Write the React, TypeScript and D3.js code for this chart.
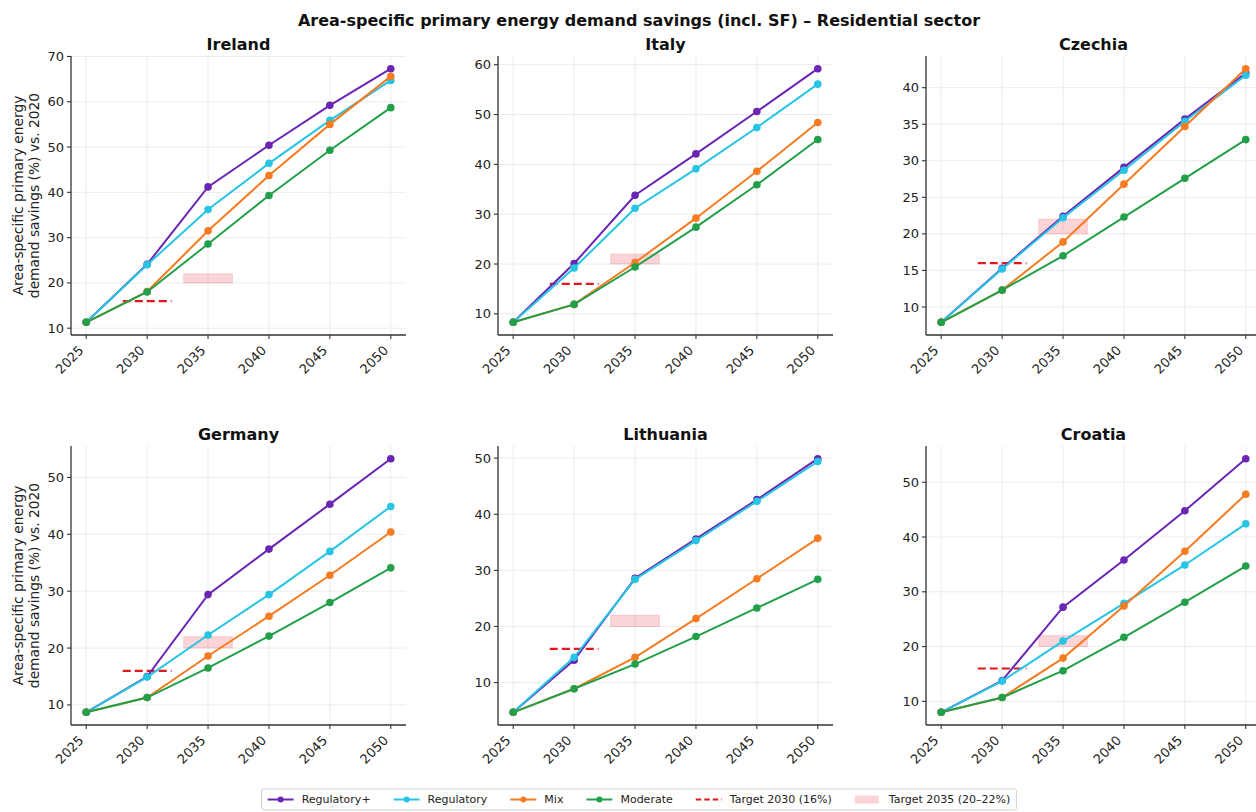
import React, { useEffect, useRef } from 'react';
import * as d3 from 'd3';

// Years on the x axis
const years = [2025, 2030, 2035, 2040, 2045, 2050];
const countries = ['Ireland', 'Italy', 'Czechia', 'Germany', 'Lithuania', 'Croatia'];
const scenarios = ['Regulatory+', 'Regulatory', 'Mix', 'Moderate'];
const scenarioColors = ['#6a25b4', '#26c5e4', '#f77b20', '#22a049'];

// Savings (%) per scenario, in the order of `scenarios`
const irelandValues = [
  [11.3, 24.1, 41.2, 50.4, 59.2, 67.3],
  [11.3, 24.0, 36.2, 46.4, 55.9, 64.7],
  [11.3, 18.1, 31.5, 43.7, 55.0, 65.6],
  [11.3, 18.0, 28.6, 39.3, 49.3, 58.7],
];
const italyValues = [
  [8.3, 20.1, 33.8, 42.1, 50.6, 59.2],
  [8.3, 19.2, 31.2, 39.1, 47.4, 56.1],
  [8.3, 11.9, 20.3, 29.2, 38.6, 48.4],
  [8.3, 11.9, 19.4, 27.4, 35.9, 45.0],
];
const czechiaValues = [
  [7.9, 15.3, 22.4, 29.1, 35.7, 42.0],
  [7.9, 15.2, 22.2, 28.7, 35.4, 41.7],
  [7.9, 12.3, 18.9, 26.8, 34.7, 42.6],
  [7.9, 12.3, 17.0, 22.3, 27.6, 32.9],
];
const germanyValues = [
  [8.7, 15.0, 29.4, 37.4, 45.3, 53.3],
  [8.7, 14.9, 22.3, 29.4, 37.0, 44.9],
  [8.7, 11.3, 18.6, 25.6, 32.8, 40.4],
  [8.7, 11.3, 16.5, 22.1, 28.0, 34.1],
];
const lithuaniaValues = [
  [4.7, 14.0, 28.6, 35.6, 42.6, 49.9],
  [4.7, 14.5, 28.4, 35.3, 42.3, 49.4],
  [4.7, 8.9, 14.5, 21.4, 28.5, 35.7],
  [4.7, 8.9, 13.3, 18.2, 23.3, 28.4],
];
const croatiaValues = [
  [8.0, 13.8, 27.2, 35.8, 44.8, 54.3],
  [8.0, 13.7, 21.0, 27.9, 34.9, 42.4],
  [8.0, 10.7, 17.9, 27.4, 37.4, 47.8],
  [8.0, 10.7, 15.6, 21.7, 28.1, 34.7],
];
const countryValues = [irelandValues, italyValues, czechiaValues, germanyValues, lithuaniaValues, croatiaValues];

// Policy targets
const target2030Value = 16;
const target2030Years = [2028, 2032];
const target2035Range = [20, 22];
const target2035Years = [2033, 2037];

const legendLabels = ['Regulatory+', 'Regulatory', 'Mix', 'Moderate', 'Target 2030 (16%)', 'Target 2035 (20–22%)'];

const App: React.FC = () => {
  const svgRef = useRef<SVGSVGElement>(null);

  useEffect(() => {
    if (!svgRef.current) return;
    const svg = d3.select(svgRef.current);
    svg.selectAll('*').remove();

    const font = 'DejaVu Sans, sans-serif';
    const axLefts = [71, 498, 926];
    const axTops = [56, 446];
    const axW = 335;
    const axH = 279;
    const ink = '#333';

    // Figure title
    svg.append('text').attr('x', 639).attr('y', 26).attr('text-anchor', 'middle')
      .style('font-family', font).style('font-size', '16px').style('font-weight', 'bold').style('fill', '#111')
      .text('Area-specific primary energy demand savings (incl. SF) – Residential sector');

    countries.forEach((country, i) => {
      const values = countryValues[i];
      const col = i % 3;
      const row = Math.floor(i / 3);
      const g = svg.append('g').attr('transform', `translate(${axLefts[col]},${axTops[row]})`);

      const x = d3.scaleLinear().domain([2025 - 1.25, 2050 + 1.25]).range([0, axW]);
      const all = values.flat().concat([target2030Value, ...target2035Range]);
      const lo = d3.min(all) || 0;
      const hi = d3.max(all) || 0;
      const pad = (hi - lo) * 0.05;
      const y = d3.scaleLinear().domain([lo - pad, hi + pad]).range([axH, 0]);
      const yTicks = y.ticks(6).filter(t => t >= y.domain()[0] && t <= y.domain()[1]);

      // Grid
      g.append('g').selectAll('line').data(yTicks).enter().append('line')
        .attr('x1', 0).attr('x2', axW).attr('y1', d => y(d)).attr('y2', d => y(d))
        .style('stroke', '#e9e9e9').style('stroke-width', 0.9);
      g.append('g').selectAll('line').data(years).enter().append('line')
        .attr('y1', 0).attr('y2', axH).attr('x1', d => x(d)).attr('x2', d => x(d))
        .style('stroke', '#e9e9e9').style('stroke-width', 0.9);

      // Target 2035 band
      g.append('rect')
        .attr('x', x(target2035Years[0])).attr('width', x(target2035Years[1]) - x(target2035Years[0]))
        .attr('y', y(target2035Range[1])).attr('height', y(target2035Range[0]) - y(target2035Range[1]))
        .style('fill', 'rgba(235, 60, 75, 0.22)').style('stroke', 'rgba(235, 60, 75, 0.18)');

      // Target 2030 dashed line
      g.append('line')
        .attr('x1', x(target2030Years[0])).attr('x2', x(target2030Years[1]))
        .attr('y1', y(target2030Value)).attr('y2', y(target2030Value))
        .style('stroke', '#e3161b').style('stroke-width', 2.2).style('stroke-dasharray', '8,4');

      // Scenario lines + markers
      const line = d3.line<number>().x((_, k) => x(years[k])).y(d => y(d));
      values.forEach((series, s) => {
        g.append('path').datum(series).attr('d', line)
          .style('fill', 'none').style('stroke', scenarioColors[s]).style('stroke-width', 2);
        g.append('g').selectAll('circle').data(series).enter().append('circle')
          .attr('cx', (_, k) => x(years[k])).attr('cy', d => y(d)).attr('r', 3.8)
          .style('fill', scenarioColors[s]);
      });

      // Spines
      g.append('line').attr('x1', 0).attr('x2', 0).attr('y1', 0).attr('y2', axH)
        .style('stroke', ink).style('stroke-width', 1.3);
      g.append('line').attr('x1', 0).attr('x2', axW).attr('y1', axH).attr('y2', axH)
        .style('stroke', ink).style('stroke-width', 1.3);

      // Y ticks
      const yt = g.append('g').selectAll('g').data(yTicks).enter().append('g')
        .attr('transform', d => `translate(0,${y(d)})`);
      yt.append('line').attr('x1', -4).attr('x2', 0).style('stroke', ink).style('stroke-width', 1.1);
      yt.append('text').attr('x', -7).attr('dy', '0.35em').attr('text-anchor', 'end')
        .style('font-family', font).style('font-size', '13px').style('fill', '#222')
        .text(d => d3.format('d')(d));

      // X ticks
      const xt = g.append('g').selectAll('g').data(years).enter().append('g')
        .attr('transform', d => `translate(${x(d)},${axH})`);
      xt.append('line').attr('y1', 0).attr('y2', 4).style('stroke', ink).style('stroke-width', 1.1);
      xt.append('text')
        .attr('transform', 'translate(-5,13) rotate(-45)')
        .attr('dy', '0.35em').attr('text-anchor', 'end')
        .style('font-family', font).style('font-size', '13px').style('fill', '#222')
        .text(d => String(d));

      // Panel title
      g.append('text').attr('x', axW / 2).attr('y', -6).attr('text-anchor', 'middle')
        .style('font-family', font).style('font-size', '16px').style('font-weight', 'bold').style('fill', '#111')
        .text(country);

      // Y label on the first column
      if (col === 0) {
        const lbl = g.append('text').attr('transform', `translate(-48,${axH / 2}) rotate(-90)`)
          .attr('text-anchor', 'middle')
          .style('font-family', font).style('font-size', '13.8px').style('fill', '#222');
        lbl.append('tspan').attr('x', 0).attr('dy', '0em').text('Area-specific primary energy');
        lbl.append('tspan').attr('x', 0).attr('dy', '1.15em').text('demand savings (%) vs. 2020');
      }
    });

    // Legend
    const lg = svg.append('g');
    const box = lg.append('rect').attr('y', 789).attr('height', 21).attr('rx', 2)
      .style('fill', 'white').style('stroke', '#cfcfcf').style('stroke-width', 1);
    const cy = 799.5;
    let cx = 0;
    const items = lg.append('g');
    legendLabels.forEach((label, k) => {
      const it = items.append('g').attr('transform', `translate(${cx},0)`);
      if (k < 4) {
        it.append('line').attr('x1', 0).attr('x2', 26).attr('y1', cy).attr('y2', cy)
          .style('stroke', scenarioColors[k]).style('stroke-width', 2);
        it.append('circle').attr('cx', 13).attr('cy', cy).attr('r', 3).style('fill', scenarioColors[k]);
      } else if (k === 4) {
        it.append('line').attr('x1', 0).attr('x2', 26).attr('y1', cy).attr('y2', cy)
          .style('stroke', '#e3161b').style('stroke-width', 2).style('stroke-dasharray', '5.5,3');
      } else {
        it.append('rect').attr('x', 0).attr('width', 24).attr('y', cy - 4).attr('height', 8)
          .style('fill', 'rgba(235, 60, 75, 0.22)');
      }
      const t = it.append('text').attr('x', 34).attr('y', cy).attr('dy', '0.35em')
        .style('font-family', font).style('font-size', '11px').style('fill', '#222').text(label);
      const w = (t.node() as SVGTextElement).getComputedTextLength();
      cx += 34 + w + 23;
    });
    const total = cx - 23;
    const left = 639 - total / 2;
    items.attr('transform', `translate(${left},0)`);
    box.attr('x', left - 6).attr('width', total + 12);
  }, []);

  return (
    <div style={{ position: 'absolute', left: 0, top: 0 }}>
      <svg ref={svgRef} width={1256} height={812} style={{ display: 'block', background: 'white' }} />
    </div>
  );
};

export default App;
